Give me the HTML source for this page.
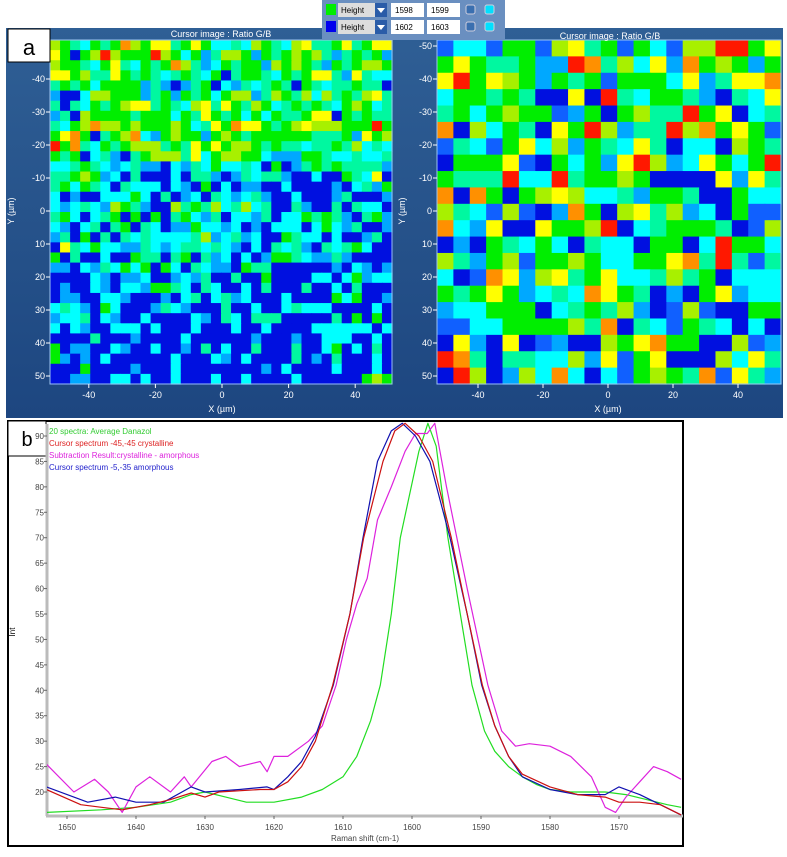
<!DOCTYPE html>
<html><head><meta charset="utf-8">
<style>
body{margin:0;background:#fff;width:787px;height:857px;overflow:hidden;font-family:"Liberation Sans",sans-serif;}
svg{position:absolute;left:0;top:0}
</style></head>
<body>
<svg width="787" height="857">
<defs>
<linearGradient id="bg" x1="0" y1="0" x2="0" y2="1"><stop offset="0" stop-color="#2f5f95"/><stop offset="1" stop-color="#1d4680"/></linearGradient>
</defs>
<rect x="6" y="28" width="777" height="390" fill="url(#bg)"/>
<g id="mapL"></g>
<g id="mapR"></g>
<g id="axesTop" fill="#fff" font-size="9"></g>
<text x="221" y="37" fill="#fff" font-size="9" text-anchor="middle">Cursor image : Ratio G/B</text>
<text x="610" y="39" fill="#fff" font-size="9" text-anchor="middle">Cursor image : Ratio G/B</text>
<g><rect x="8" y="29" width="42" height="33" fill="#fff" stroke="#000"/><text x="29" y="55" font-size="22" text-anchor="middle">a</text></g>
<g>
<rect x="322" y="0" width="183" height="40" fill="#6a8fc0"/>
<rect x="326" y="4" width="10" height="11" fill="#00ee00"/><rect x="326" y="21" width="10" height="11" fill="#0000ee"/>
<rect x="338" y="3" width="37" height="14" fill="#ddd"/><text x="341" y="13" font-size="8">Height</text>
<rect x="338" y="20" width="37" height="14" fill="#ddd"/><text x="341" y="30" font-size="8">Height</text>
<rect x="375" y="3" width="12" height="14" fill="#2a5ca8"/><path d="M377 8 L385 8 L381 13Z" fill="#fff"/>
<rect x="375" y="20" width="12" height="14" fill="#2a5ca8"/><path d="M377 25 L385 25 L381 30Z" fill="#fff"/>
<rect x="391" y="3" width="33" height="14" fill="#fff"/><text x="395" y="13" font-size="8">1598</text>
<rect x="427" y="3" width="33" height="14" fill="#fff"/><text x="431" y="13" font-size="8">1599</text>
<rect x="391" y="20" width="33" height="14" fill="#fff"/><text x="395" y="30" font-size="8">1602</text>
<rect x="427" y="20" width="33" height="14" fill="#fff"/><text x="431" y="30" font-size="8">1603</text>
<rect x="466" y="5" width="9" height="9" rx="2" fill="#3a6fb0" stroke="#ccd"/><rect x="485" y="5" width="9" height="9" rx="2" fill="#00e0ff" stroke="#ccd"/>
<rect x="466" y="22" width="9" height="9" rx="2" fill="#3a6fb0" stroke="#ccd"/><rect x="485" y="22" width="9" height="9" rx="2" fill="#00e0ff" stroke="#ccd"/>
</g>
<rect x="8" y="421" width="675" height="425" fill="#fff" stroke="#000" stroke-width="2"/>
<g><rect x="8" y="421" width="38" height="35" fill="#fff" stroke="#000"/><text x="27" y="446" font-size="20" text-anchor="middle">b</text></g>
<line x1="47" y1="424" x2="47" y2="816" stroke="#bbb" stroke-width="3"/>
<line x1="46" y1="816" x2="683" y2="816" stroke="#bbb" stroke-width="3"/>
<g id="axesB" font-size="8" fill="#444"></g>
<svg x="47" y="422" width="635" height="394" overflow="hidden"><g id="lines" transform="translate(-47,-422)"></g></svg>
<text x="15" y="632" font-size="8" transform="rotate(-90 15 632)" text-anchor="middle">Int</text>
<text x="365" y="841" font-size="8" fill="#444" text-anchor="middle">Raman shift (cm-1)</text>
<g font-size="8">
<text x="49" y="434" fill="#33cc33">20 spectra: Average Danazol</text>
<text x="49" y="446" fill="#dd2222">Cursor spectrum -45,-45 crystalline</text>
<text x="49" y="458" fill="#dd22dd">Subtraction Result:crystalline - amorphous</text>
<text x="49" y="470" fill="#2222cc">Cursor spectrum -5,-35 amorphous</text>
</g>
</svg>
<script>
const NS="http://www.w3.org/2000/svg";
const palette={b:"#0010e0",B:"#1060ff",l:"#00a8ff",c:"#00ffff",t:"#00f8a0",g:"#00ee00",y:"#a8f000",Y:"#ffff00",o:"#ff9000",r:"#ff1800"};
const leftRows=["ygtcgtgoygYYtgYgcctcygtcyYttgYtgYY","Ygbgyrygggrygcgltyyglgtgygytltgtgl","yggtcgYtcgtgoytlcgtgglygygtlgtgyyg","YYgyttYgtgtctgtcgbtggtcgtgYYtlYtcc","tgtgcggggltlbltgbcltctgtbgtcttgttb","lbbcyygggltglgtgcgyyltygtycytgtyYt","tbtcgtgyYYtgtcyYtYgtygctgtgtcgygct","ltbyggggtgggcgtYgtgcgcgttgYYbgtgtt","tcgyoyygygggygctYgoYYgtgyYyyygggrg","gYogbtgyoclgygglgygtggggggtttglYgy","rgotcgtgyyytgtYgYgyygtgttcttgtyctc","gtgbctlbtgyyytYcgyyggclllggtcctcct","cctgtclctllbcltcgcctcbgbltgtgttttl","ttgyglcbtbbbcbttlbltcttlbbcbbgtcYb","tgcgtcbtcccbclbgbcbllbbcbbbblbctlg","cblbbcccgcbtblcbtclctlbbcbbbltbbbl","clctclygtlbbytgtyctyctbbtlbbtbtccb","tgcbctgbgbgbtgcltbccltbccgtgtlbtgl","clbctbtgbtcbllgcclcblbcccbcgcltbbl","ltbgbtbtctcccctylctlcbbgtccbcbbltb","bYtcgcclltclcttctclbcbtctlbtctgcbb","gbtbbcbbgttbtgbtlcbcblggtclltlbbbb","llbcltcgcgbgcbtcllbgttbbbbbblbclbl","bbbbclbllcbblcltbbtbbgbbbbccbcglcc","blbbclbcclggtcbtcbbcbtbbbtbbcbtbbb","bllbbcclbbblbctbctlcbbbcbbbbgcgbbl","ctclbgcbbbltclbbbtbbcbbctcccbbbbcb","lcctbclbbcbbbbclbtcbtttbbbbbtbgbgb","cbclbbcccbcbbbcbbbcbbcbbbbccccccbc","bbbbtbbblbbbbcbbbbbblbbblbbcccbbcb","gbllbbclbbcbblbtbcbbtbbbtbbcgbcbtb","glblbcbbbbbbcbbbclbcbbbbtblbtbbbcb","bbbgbbbblbbbcbbbbbbbblbcbbbbcbbbcb","bbllbbccbcbbcbbbcbbcbbbbcbbbbbbgyg"];
const rightRows=["BccBggByYtgBgcByyrrgY","gYgttgllrotycYlogyglg","YrgYyglgtgBgggcYltYYo","cggtgtbbYbrtcggtlbtcY","tgcgyggBlgbgyttrgYbct","obycgtbYgrylttryogYgB","BtcBgYcylgtcYtbccbygt","bgggYBbgcglYrylcYgcgr","gtttrccrtggygbbbbYlYt","obogbgyYycctlggtbbgcc","ytcByBblogbyYtylcbgBB","oclYbbYggyrbctgggtbBy","blbgtcgcbtccbggbcrggc","ytlgyBggygccggYotrtBt","cbBoYlyYtgYcctytgbccc","gtgYglctcoYgtblbgYlcc","lccgggbctgtylbByBbbgg","BBccggggytobtcBgtcbcb","bYlbYbBlbbygYoggbbyBl","rotbttccylYBgYbbbycYt","bryblycocbcBgygtoBYtl"];
const xTicks=[-40,-20,0,20,40];
const yTicks=[-50,-40,-30,-20,-10,0,10,20,30,40,50];
function mk(tag,attrs,parent){const e=document.createElementNS(NS,tag);for(const k in attrs)e.setAttribute(k,attrs[k]);parent.appendChild(e);return e;}
function drawMap(g,rows,x0,y0,w,h){
  const n=rows.length;const cw=w/n,ch=h/n;
  rows.forEach((row,j)=>{for(let i=0;i<n;i++){
    const k=row.charAt(i%row.length);
    const r=mk('rect',{x:(x0+i*cw).toFixed(2),y:(y0+j*ch).toFixed(2),width:(cw+0.6).toFixed(2),height:(ch+0.6).toFixed(2),fill:palette[k]||"#00ee00"},g);
    
    
  }});
  const f=mk('rect',{x:x0,y:y0,width:w,height:h,fill:'none',stroke:'#9cc3f0','stroke-width':1},g);
  
  
}
drawMap(document.getElementById('mapL'),leftRows,50,40,342,344);
drawMap(document.getElementById('mapR'),rightRows,437,40,344,344);
const at=document.getElementById('axesTop');
function mapAxes(cx,cy,sx,sy,left,bottom,ylab){
  xTicks.forEach(v=>{const x=cx+v*sx;
    mk('line',{x1:x,y1:bottom,x2:x,y2:bottom+4,stroke:'#fff'},at);
    const t=mk('text',{x:x,y:bottom+14,'text-anchor':'middle'},at);t.textContent=v;
    
    });
  yTicks.forEach(v=>{const y=cy+v*sy;
    mk('line',{x1:left-4,y1:y,x2:left,y2:y,stroke:'#fff'},at);
    const t=mk('text',{x:left-5,y:y+3,'text-anchor':'end'},at);t.textContent=v;
    
    });
  const xl=mk('text',{x:cx,y:bottom+28,'text-anchor':'middle'},at);xl.textContent='X (µm)';
  
  
  const yl=mk('text',{x:ylab,y:cy,'text-anchor':'middle',transform:`rotate(-90 ${ylab} ${cy})`},at);yl.textContent='Y (µm)';
  
  
}
mapAxes(222,211,3.33,3.3,50,384,14);
mapAxes(608,211,3.25,3.3,437,384,405);

const shiftTicks=[1650,1640,1630,1620,1610,1600,1590,1580,1570];
const intTicks=[20,25,30,35,40,45,50,55,60,65,70,75,80,85,90];
const avgX=[1653,1645,1640,1635,1632,1630,1627,1624,1620,1616,1613,1610,1608,1606,1604.6,1603,1601.7,1599,1597.7,1596.5,1594.8,1593,1591.3,1589.5,1588,1586,1584,1582,1580,1577,1572,1569,1566,1563,1561];
const avgY=[16,16.5,17,18,19.5,20,19,18,18,19,20.5,23,27,34,41,55,70,87,92.5,88,70,55,41,32,28,25,23,21.5,20.5,20,20,19.5,18.5,17.5,17];
const crysX=[1653,1648,1645,1642,1638,1635,1632,1630,1628,1622,1620,1618,1616,1614,1611.5,1609,1607,1604.2,1602.5,1601,1599,1597,1594.3,1592,1589.8,1588,1586,1584,1580,1576,1572,1570,1567,1564,1561];
const crysY=[20.5,17.5,17,16.5,17.5,18.5,19.8,19,20,20.5,20.5,22,25,30,41,55,70,85,91,92.5,90,85,70,55,41,33,27,23.5,21,19.5,19,18,18,17.5,15.5];
const subX=[1653,1649,1646,1644,1642,1640,1638,1635,1633,1632,1629,1627,1625,1622,1621,1620,1618,1615,1613,1611,1609.5,1608,1606.5,1605,1603,1601,1599.5,1597.8,1596.7,1595,1592,1589,1587,1585,1583,1580,1577,1574,1572,1570.5,1569,1567,1565,1563,1561];
const subY=[25.5,20,22.5,20,16,21,23,20,23,21,26,27,25,26,24,27,27,30,33,41,50,57,62,73.5,80,87,90.5,90.5,92.5,80,60,41,32,29,29.5,29,27,23,17,16,19,22,25,24,22.5];
const amorX=[1653,1647,1643,1640,1636,1632,1630,1625,1621,1620,1618,1616,1614,1611.4,1609,1607.1,1605,1603,1601.4,1599.5,1597.4,1594.5,1592,1589.9,1588,1586,1584,1580,1576,1572,1570,1567,1564,1561];
const amorY=[21,18,19,18,18,21,20,20.5,21,20.5,23,26,31,41,55,70,85,91,92.5,90,85,70,55,41,33,27,23,20.5,19.5,19.5,21,19.5,17.5,15.5];
const xs=v=>67+(1650-v)*6.9;
const ys=v=>436+(90-v)*5.086;
const ab=document.getElementById('axesB');
shiftTicks.forEach(v=>{const x=xs(v);
  mk('line',{x1:x,y1:816,x2:x,y2:819,stroke:'#666'},ab);
  const t=mk('text',{x:x,y:830,'text-anchor':'middle'},ab);t.textContent=v;
  
  });
intTicks.forEach(v=>{const y=ys(v);
  mk('line',{x1:44,y1:y,x2:47,y2:y,stroke:'#666'},ab);
  const t=mk('text',{x:44,y:y+3,'text-anchor':'end'},ab);t.textContent=v;
  
  });
const lg=document.getElementById('lines');
function series(X,Y,color,name){
  const pts=X.map((x,i)=>xs(x).toFixed(1)+','+ys(Y[i]).toFixed(1)).join(' ');
  const p=mk('polyline',{points:pts,fill:'none',stroke:color,'stroke-width':1.2,'stroke-linejoin':'round'},lg);
  
  
}
series(avgX,avgY,'#22dd22','series-average');
series(subX,subY,'#dd22dd','series-subtraction');
series(amorX,amorY,'#1010b0','series-amorphous');
series(crysX,crysY,'#cc1010','series-crystalline');
</script>
</body></html>
